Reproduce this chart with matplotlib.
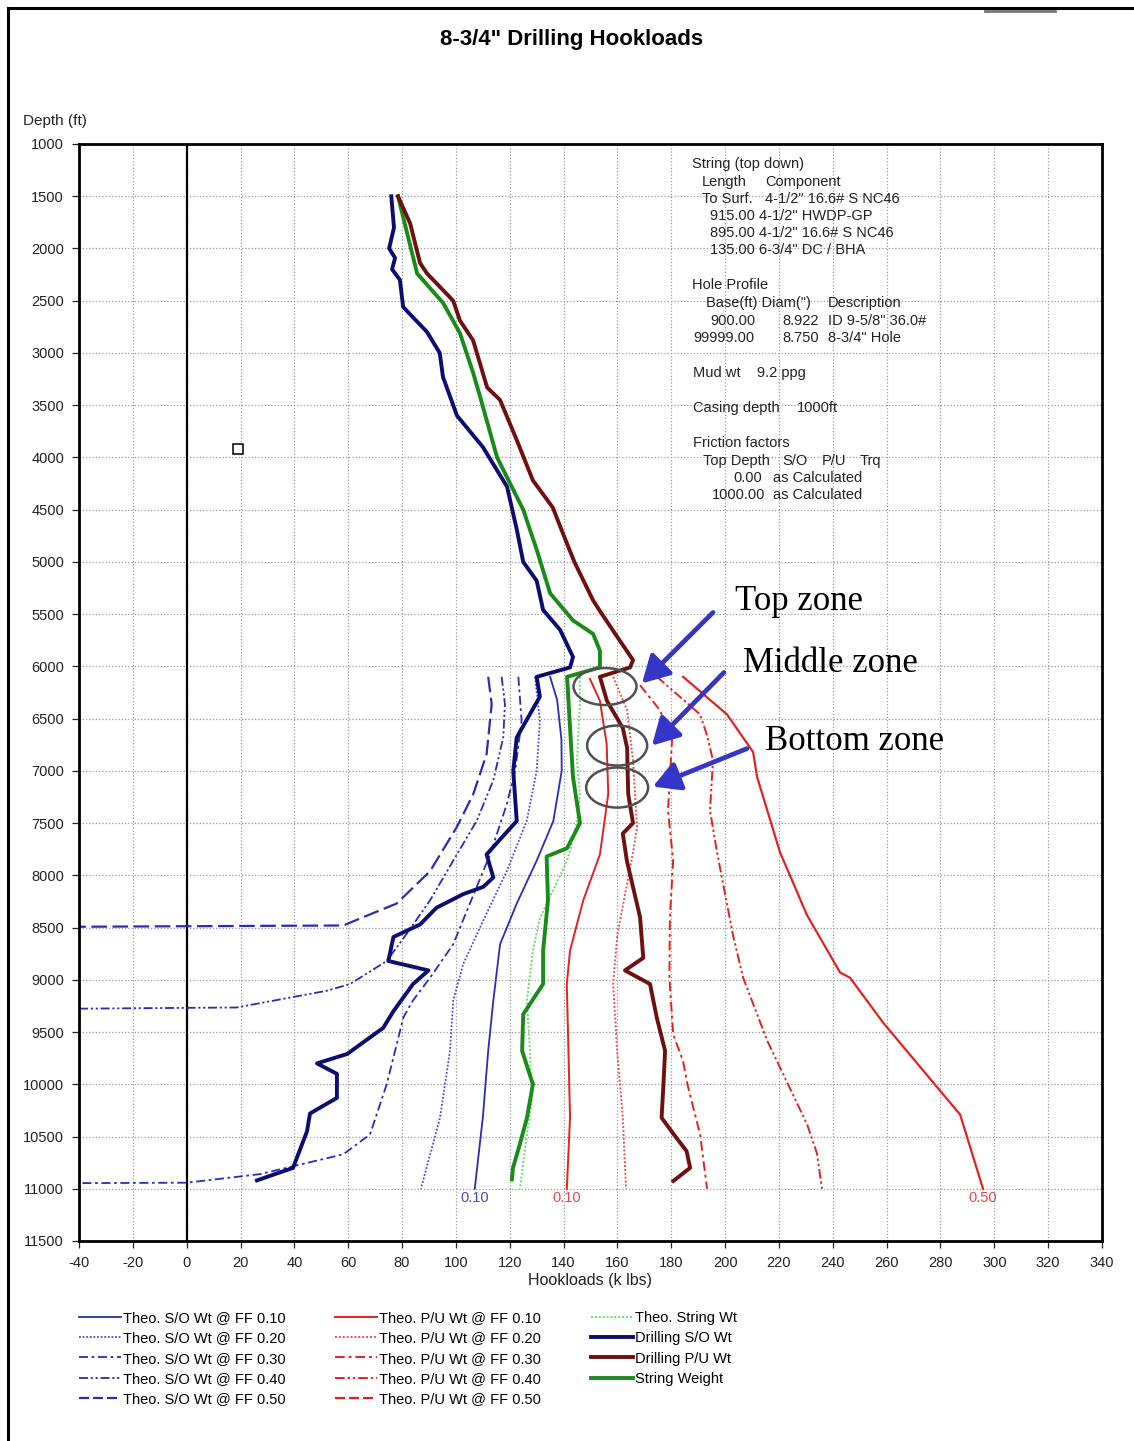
import matplotlib
matplotlib.use("Agg")
import matplotlib.pyplot as plt
from matplotlib.patches import Ellipse
from matplotlib.lines import Line2D

plt.rcParams['font.family'] = ['Liberation Sans', 'DejaVu Sans']
plt.rcParams['axes.unicode_minus'] = False

W, H = 1134, 1441

# ---- field data: depth (ft) vs hookload (k lbs) ----
dso_depth = [1500, 1800, 2000, 2090, 2200, 2300, 2560, 2800, 3000, 3230, 3600, 3900,
             4280, 4700, 5000, 5180, 5460, 5650, 5910, 6010, 6100, 6290, 6680, 7000,
             7480, 7800, 8020, 8110, 8180, 8310, 8470, 8590, 8820, 8910, 9040, 9300,
             9460, 9710, 9800, 9900, 10130, 10280, 10450, 10800, 10920]
dso_load = [76, 77, 75.2, 77.4, 76.3, 79.2, 80.4, 89.3, 94, 95.2, 100.4, 110,
            119, 122.7, 125, 130, 132.4, 138.7, 143.5, 142.4, 130, 131.2, 122.6, 121.3,
            122.6, 111.4, 113.9, 110.2, 102.7, 92.8, 86.7, 76.8, 74.9, 89.8, 84.1, 76.8,
            73, 59.6, 48.4, 55.8, 55.8, 45.8, 44.7, 39.5, 26.1]

dpu_depth = [1500, 1760, 2140, 2240, 2500, 2690, 2880, 3330, 3450, 3840, 4220, 4480,
             4730, 5000, 5370, 5470, 5720, 5940, 6010, 6100, 6330, 6590, 6780, 7220,
             7500, 7600, 7860, 8400, 8790, 8910, 9040, 9360, 9680, 10000, 10320, 10475,
             10640, 10800, 10925]
dpu_load = [78.5, 83, 86.7, 89.3, 99, 101.5, 106.4, 111.6, 116.4, 122.7, 128.6, 136,
            139.8, 144, 151, 153.5, 160, 165.8, 164.7, 153.5, 156.1, 162, 163.6, 164,
            165.8, 162, 163.5, 168.4, 169.6, 162.8, 172.1, 174.6, 177.7, 177.1, 176.4, 180.8,
            185.7, 187, 180.8]

sw_depth = [1500, 2240, 2520, 2810, 3190, 3420, 4000, 4500, 4890, 5300, 5560, 5690,
            5850, 6010, 6100, 6590, 7060, 7500, 7740, 7820, 8240, 8720, 9040, 9330,
            9680, 10000, 10320, 10570, 10800, 10910]
sw_load = [78.5, 85.6, 95.2, 101.5, 106.4, 109, 115.3, 125, 130.1, 135, 143.5, 151,
           153.5, 153.5, 141.3, 142.4, 143.5, 146.1, 141.3, 133.7, 134.2, 132.4, 132.4, 125,
           124.6, 128.6, 126.4, 123.8, 121.2, 120.8]

# ---- theoretical model curves ----
tsw_depth = [6100, 6330, 6900, 7220, 7480, 7760, 7860, 8410, 8720, 9200, 9680, 10160, 10480, 11000]
tsw_load = [146, 146.1, 145, 146.1, 145, 142.4, 141.3, 131.2, 128.6, 126.4, 127.5, 128.2, 126.4, 123.8]

so10_depth = [6100, 6320, 6700, 7000, 7480, 7860, 8270, 8660, 9200, 9680, 10320, 11000]
so10_load = [135, 137.6, 139.2, 139.3, 136.2, 130, 122.6, 116.4, 113.9, 112, 110, 107]

so20_depth = [6100, 6520, 7000, 7480, 7960, 8430, 8850, 9200, 9680, 10320, 11000]
so20_load = [129.4, 131.2, 130, 126.3, 118.9, 110.2, 102.7, 99, 97.8, 94.1, 87]

so30_depth = [6100, 6520, 7000, 7320, 7800, 8270, 8660, 8980, 9200, 9360, 10000, 10480,
              10670, 10860, 10942, 10946]
so30_load = [123.2, 124.4, 122, 118.9, 112.7, 105.2, 99, 90.4, 84, 80.5, 74.3, 68.1,
             58.2, 27.2, 0, -40]

so40_depth = [6100, 6360, 6680, 7090, 7480, 7860, 8240, 8560, 8820, 9040, 9105, 9265, 9276]
so40_load = [117, 118.2, 117.6, 113.9, 107.7, 99, 90.4, 81.7, 74.3, 60.7, 52, 18.6, -40]

so50_depth = [6100, 6360, 6840, 7220, 7540, 7960, 8270, 8400, 8480, 8492]
so50_load = [112, 113.3, 111.4, 106.5, 100.3, 90.4, 78, 65.6, 58.2, -40]

pu10_depth = [6120, 6330, 6740, 7220, 7800, 8240, 8720, 9040, 9680, 10320, 11000]
pu10_load = [149.8, 153.5, 156, 156.6, 153.5, 147.3, 142.4, 141.2, 141.8, 142.4, 141.2]

pu20_depth = [6100, 6420, 6900, 7540, 7780, 8080, 8560, 9040, 9680, 10320, 11000]
pu20_load = [158.4, 163.6, 165.8, 167.3, 165.8, 163.6, 160, 158.4, 159.9, 162, 163.2]

pu30_depth = [6180, 6420, 6700, 7380, 7860, 8400, 8980, 9520, 9780, 10000, 10480, 11000]
pu30_load = [168.4, 175.8, 180.3, 178.8, 180.7, 179.5, 179.3, 180.7, 184.4, 186, 190.7, 193.3]

pu40_depth = [6100, 6460, 6660, 6900, 7380, 7780, 8580, 8980, 9580, 9980, 10380, 10660, 11000]
pu40_load = [174.7, 190.7, 193.3, 195.5, 194.4, 197, 203, 206.7, 215.6, 223, 230.4, 234.1, 236]

pu50_depth = [6100, 6460, 6820, 7060, 7780, 8380, 8930, 8980, 9410, 9980, 10290, 11000]
pu50_load = [184.4, 200.7, 210.4, 211.9, 220.4, 230.4, 242.7, 246.4, 258.7, 277.2, 287.3, 295.8]

# highlighted zones: (centre load, centre depth, width k lbs, height ft)
zone_names = ["Top zone", "Middle zone", "Bottom zone"]
zone_ellipses = [(155.4, 6193, 23.4, 354), (159.9, 6758, 22.3, 383), (159.9, 7160, 23.0, 383)]
zone_arrow_tail = [(195.5, 5484), (199.6, 6058), (208.1, 6787)]
zone_arrow_tip = [(169.1, 6163), (172.8, 6758), (173.2, 7151)]
zone_text_pos = [(203.7, 5378), (206.7, 5972), (214.9, 6720)]

x_ticks = list(range(-40, 341, 20))
y_ticks = list(range(1000, 11501, 500))

SO_BLUE = "#2b2bb3"
SO_LIGHT = "#4a4ad0"
PU_RED = "#e02222"
PU_LIGHT = "#e05555"

fig = plt.figure(figsize=(W / 100, H / 100), dpi=100)
ax = fig.add_axes([79 / W, 1 - 1241 / H, (1102 - 79) / W, (1241 - 144) / H])

ax.set_xlim(-40, 340)
ax.set_ylim(11500, 1000)
ax.set_xticks(x_ticks)
ax.set_yticks(y_ticks)
ax.grid(True, color="#9a9a9a", linestyle=(0, (1, 1.6)), linewidth=0.9)
ax.set_axisbelow(True)
ax.tick_params(labelsize=10.5, length=4.8, width=0.9, pad=6, colors="#222222")
for s in ax.spines.values():
    s.set_linewidth(2.0)
    s.set_color("black")
ax.axvline(0, color="black", lw=1.6, zorder=1)

dash_30 = (0, (5, 2, 1.5, 2))
dash_40 = (0, (5, 1.5, 1.2, 1.5, 1.2, 1.5))
dash_50 = (0, (7, 2.5))
dash_50_key = (0, (4.5, 1.8))

h_so10, = ax.plot(so10_load, so10_depth, color=SO_BLUE, lw=1.3, label="Theo. S/O Wt @ FF 0.10")
h_so20, = ax.plot(so20_load, so20_depth, color=SO_LIGHT, lw=1.3, ls=(0, (1, 1)), label="Theo. S/O Wt @ FF 0.20")
h_so30, = ax.plot(so30_load, so30_depth, color=SO_BLUE, lw=1.3, ls=dash_30, label="Theo. S/O Wt @ FF 0.30")
h_so40, = ax.plot(so40_load, so40_depth, color=SO_BLUE, lw=1.3, ls=dash_40, label="Theo. S/O Wt @ FF 0.40")
ax.plot(so50_load, so50_depth, color=SO_BLUE, lw=1.6, ls=dash_50)

h_pu10, = ax.plot(pu10_load, pu10_depth, color=PU_RED, lw=1.4, label="Theo. P/U Wt @ FF 0.10")
h_pu20, = ax.plot(pu20_load, pu20_depth, color=PU_LIGHT, lw=1.4, ls=(0, (1, 1)), label="Theo. P/U Wt @ FF 0.20")
h_pu30, = ax.plot(pu30_load, pu30_depth, color=PU_RED, lw=1.4, ls=dash_30, label="Theo. P/U Wt @ FF 0.30")
h_pu40, = ax.plot(pu40_load, pu40_depth, color=PU_RED, lw=1.4, ls=dash_40, label="Theo. P/U Wt @ FF 0.40")
# densely sampled in the source plot, so the dashes merge into a near-solid trace
ax.plot(pu50_load, pu50_depth, color=PU_RED, lw=1.6)

h_so50 = Line2D([], [], color=SO_BLUE, lw=1.6, ls=dash_50_key, label="Theo. S/O Wt @ FF 0.50")
h_pu50 = Line2D([], [], color=PU_RED, lw=1.6, ls=dash_50_key, label="Theo. P/U Wt @ FF 0.50")

h_tsw, = ax.plot(tsw_load, tsw_depth, color="#66dd66", lw=1.4, ls=(0, (1, 1)), label="Theo. String Wt")
h_sw, = ax.plot(sw_load, sw_depth, color="#1a8a1a", lw=2.8, label="String Weight")
h_dso, = ax.plot(dso_load, dso_depth, color="#0c0c72", lw=2.8, label="Drilling S/O Wt")
h_dpu, = ax.plot(dpu_load, dpu_depth, color="#6e1010", lw=2.8, label="Drilling P/U Wt")

# friction factor tags at the bottom of the model curves
ax.text(so10_load[-1], 11088, "0.10", color="#4646c8", fontsize=10.5, ha="center", va="center")
ax.text(pu10_load[-1], 11088, "0.10", color="#e04848", fontsize=10.5, ha="center", va="center")
ax.text(pu50_load[-1], 11088, "0.50", color="#e04848", fontsize=10.5, ha="center", va="center")

ax.plot([19], [3920], marker="s", ms=7, mfc="white", mec="black", mew=1.1)

for (cx, cy, ew, eh), tail, tip, name, tpos in zip(zone_ellipses, zone_arrow_tail,
                                                  zone_arrow_tip, zone_names, zone_text_pos):
    ax.add_patch(Ellipse((cx, cy), ew, eh, fill=False, edgecolor="#505050", lw=1.8, zorder=6))
    ax.annotate("", xy=tip, xytext=tail,
                arrowprops=dict(arrowstyle="-|>,head_length=0.9,head_width=0.5",
                                color="#3535c8", lw=3.4, mutation_scale=18,
                                shrinkA=0, shrinkB=0), zorder=7)
    ax.text(tpos[0], tpos[1], name, family="Liberation Serif", fontsize=25,
            ha="left", va="center", color="black", zorder=7)

# model input summary
info = [
    (692, 164, "String (top down)"),
    (702, 182, "Length"), (765, 182, "Component"),
    (702, 199, "To Surf."), (765, 199, "4-1/2\" 16.6# S NC46"),
    (710, 216, "915.00 4-1/2\" HWDP-GP"),
    (710, 233, "895.00 4-1/2\" 16.6# S NC46"),
    (710, 250, "135.00 6-3/4\" DC / BHA"),
    (692, 285, "Hole Profile"),
    (706, 303, "Base(ft) Diam(\")"), (828, 303, "Description"),
    (710, 321, "900.00"), (782, 321, "8.922"), (828, 321, "ID 9-5/8\" 36.0#"),
    (693, 338, "99999.00"), (782, 338, "8.750"), (828, 338, "8-3/4\" Hole"),
    (693, 373, "Mud wt"), (757, 373, "9.2 ppg"),
    (693, 408, "Casing depth"), (797, 408, "1000ft"),
    (693, 443, "Friction factors"),
    (703, 461, "Top Depth"), (782, 461, "S/O"), (822, 461, "P/U"), (860, 461, "Trq"),
    (733, 478, "0.00"), (773, 478, "as Calculated"),
    (712, 495, "1000.00"), (773, 495, "as Calculated"),
]
for px, py, s in info:
    fig.text(px / W, 1 - py / H, s, fontsize=10.5, ha="left", va="center", color="#222222")

fig.text(572 / W, 1 - 40 / H, "8-3/4\" Drilling Hookloads", fontsize=16, fontweight="bold",
         ha="center", va="center")
fig.text(23 / W, 1 - 121 / H, "Depth (ft)", fontsize=11, ha="left", va="center", color="#222222")
fig.text(590 / W, 1 - 1281 / H, "Hookloads (k lbs)", fontsize=11.5, ha="center", va="center",
         color="#222222")

groups = [
    ([h_so10, h_so20, h_so30, h_so40, h_so50], 79),
    ([h_pu10, h_pu20, h_pu30, h_pu40, h_pu50], 335),
    ([h_tsw, h_dso, h_dpu, h_sw], 591),
]
for handles, px in groups:
    fig.legend(handles=handles, loc="upper left", bbox_to_anchor=(px / W, 1 - 1311 / H),
               frameon=False, fontsize=10.5, handlelength=2.9, handletextpad=0.12,
               labelspacing=0.43, borderpad=0, borderaxespad=0)

# page frame
fig.add_artist(Line2D([8 / W, 8 / W], [0, 1 - 8 / H], color="black", lw=2.2))
fig.add_artist(Line2D([8 / W, 1], [1 - 8 / H, 1 - 8 / H], color="black", lw=2.2))
fig.add_artist(Line2D([985 / W, 1055 / W], [1 - 11 / H, 1 - 11 / H], color="#777777", lw=2))

fig.savefig("out.png", dpi=100)
